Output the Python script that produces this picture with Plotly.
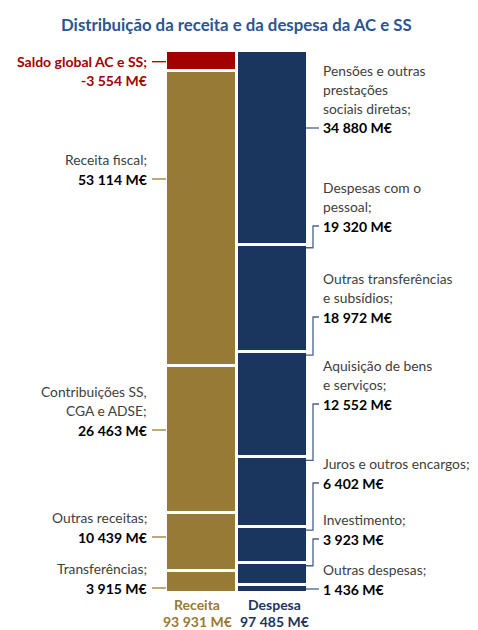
import plotly.graph_objects as go

# ---------------- data ----------------
title_text = "Distribuição da receita e da despesa da AC e SS"
bar_names = ["Receita", "Despesa"]

receita_labels = ["Transferências;", "Outras receitas;", "Contribuições SS,<br>CGA e ADSE;", "Receita fiscal;"]
receita_vals = [3915, 10439, 26463, 53114]
saldo_label = "Saldo global AC e SS;"
saldo_val = -3554

despesa_labels = ["Outras despesas;", "Investimento;", "Juros e outros encargos;",
                  "Aquisição de bens<br>e serviços;", "Outras transferências<br>e subsídios;",
                  "Despesas com o<br>pessoal;", "Pensões e outras<br>prestações<br>sociais diretas;"]
despesa_vals = [1436, 3923, 6402, 12552, 18972, 19320, 34880]

# ---------------- styles / layout ----------------
W, H = 478, 630
GOLD = "#977A35"
NAVY = "#1B365E"
RED = "#A30000"
TITLE_C = "#2B5592"
LEAD_D = "#4A6288"
TXT = "#404040"
FONT = "Lato"
FS = 13.8
FSB = 14.0
LH = 19.3

# pixel geometry of the plotting frame
X0_PX, DX_PX = 201, 71          # centre of first bar, bar spacing
BASE_PX, TOP_PX = 592.5, 51.0   # pixel of value 0 and of the despesa total
total = sum(despesa_vals)
k = (BASE_PX - TOP_PX) / total  # px per unit


def yd(p):
    return (BASE_PX - p) / k


def xd(p):
    return (p - X0_PX) / DX_PX


def fmt(v):
    return f"{v:,}".replace(",", " ") + " M€"


# label placement (pixel row of the value line)
receita_rows = [588, 537, 430, 179]
saldo_row = 81
despesa_rows = [589, 539, 483, 404, 317, 226, 128]

fig = go.Figure()

# receita stack
for lab, v in zip(receita_labels, receita_vals):
    fig.add_trace(go.Bar(x=[0], y=[v], width=1, marker=dict(color=GOLD, line=dict(color="white", width=3)),
                         name=lab, hoverinfo="skip"))
fig.add_trace(go.Bar(x=[0], y=[-saldo_val], width=1, marker=dict(color=RED, line=dict(color="white", width=3)),
                     name=saldo_label, hoverinfo="skip"))
# despesa stack
for lab, v in zip(despesa_labels, despesa_vals):
    fig.add_trace(go.Bar(x=[1], y=[v], width=1, marker=dict(color=NAVY, line=dict(color="white", width=3)),
                         name=lab, hoverinfo="skip"))

ann = []
shapes = []


def add_lines(text_lines, last_row, x, anchor, colors, bolds):
    n = len(text_lines)
    for i, t in enumerate(text_lines):
        row = last_row - (n - 1 - i) * LH
        ann.append(dict(x=x / W, y=1 - row / H, xref="paper", yref="paper", text=(f"<b>{t}</b>" if bolds[i] else t),
                        showarrow=False, xanchor=anchor, yanchor="middle", align=anchor,
                        font=dict(family=FONT, size=(FSB if bolds[i] else FS), color=colors[i])))


# left labels (receita)
for lab, v, row in zip(receita_labels, receita_vals, receita_rows):
    lines = lab.split("<br>") + [fmt(v)]
    add_lines(lines, row, 149, "right", [TXT] * (len(lines) - 1) + ["#000000"], [False] * (len(lines) - 1) + [True])
    shapes.append(dict(type="line", xref="paper", yref="paper", x0=152 / W, x1=166 / W,
                       y0=1 - row / H, y1=1 - row / H, line=dict(color=GOLD, width=1.3)))

# saldo label
add_lines([saldo_label, fmt(saldo_val)], saldo_row, 149, "right", [RED, RED], [True, True])
shapes.append(dict(type="line", xref="paper", yref="paper", x0=152 / W, x1=166 / W,
                   y0=1 - (saldo_row - LH) / H, y1=1 - (saldo_row - LH) / H, line=dict(color=RED, width=1.3)))

# right labels (despesa) with elbow leaders
cum = 0
for lab, v, row in zip(despesa_labels, despesa_vals, despesa_rows):
    lines = lab.split("<br>") + [fmt(v)]
    add_lines(lines, row, 321, "left", [TXT] * (len(lines) - 1) + ["#000000"], [False] * (len(lines) - 1) + [True])
    lo, hi = cum, cum + v
    yrow = yd(row)
    delta = 3 / k
    yc = min(max(yrow, lo + delta), hi - delta)
    if abs(yc - yrow) < 1e-9:
        shapes.append(dict(type="line", xref="paper", yref="y", x0=306 / W, x1=319 / W, y0=yrow, y1=yrow,
                           line=dict(color=LEAD_D, width=1.3)))
    else:
        shapes.append(dict(type="path", xref="paper", yref="y",
                           path=f"M {319 / W},{yrow} L {313 / W},{yrow} L {313 / W},{yc} L {306 / W},{yc}",
                           line=dict(color=LEAD_D, width=1.3)))
    cum += v

# totals under bars
for cx, name, tot, col in [(197, bar_names[0], sum(receita_vals), GOLD), (274, bar_names[1], total, NAVY)]:
    ann.append(dict(x=cx / W, y=1 - 604 / H, xref="paper", yref="paper", text=f"<b>{name}</b>", showarrow=False,
                    xanchor="center", yanchor="middle", borderpad=0, font=dict(family=FONT, size=14, color=col)))
    ann.append(dict(x=cx / W, y=1 - 621 / H, xref="paper", yref="paper", text=f"<b>{fmt(tot)}</b>", showarrow=False,
                    xanchor="center", yanchor="middle", borderpad=0, font=dict(family=FONT, size=14, color=col)))

# title
ann.append(dict(x=236 / W, y=1 - 25 / H, xref="paper", yref="paper", text=f"<b>{title_text}</b>", showarrow=False,
                xanchor="center", yanchor="middle", font=dict(family=FONT, size=16.8, color=TITLE_C)))

fig.update_layout(
    width=W, height=H, margin=dict(l=0, r=0, t=0, b=0),
    paper_bgcolor="white", plot_bgcolor="white",
    barmode="stack", bargap=0, showlegend=False,
    xaxis=dict(range=[xd(0), xd(W)], visible=False, fixedrange=True),
    yaxis=dict(range=[yd(H), yd(0)], visible=False, fixedrange=True),
    annotations=ann, shapes=shapes,
)

fig.write_html("out.html")
